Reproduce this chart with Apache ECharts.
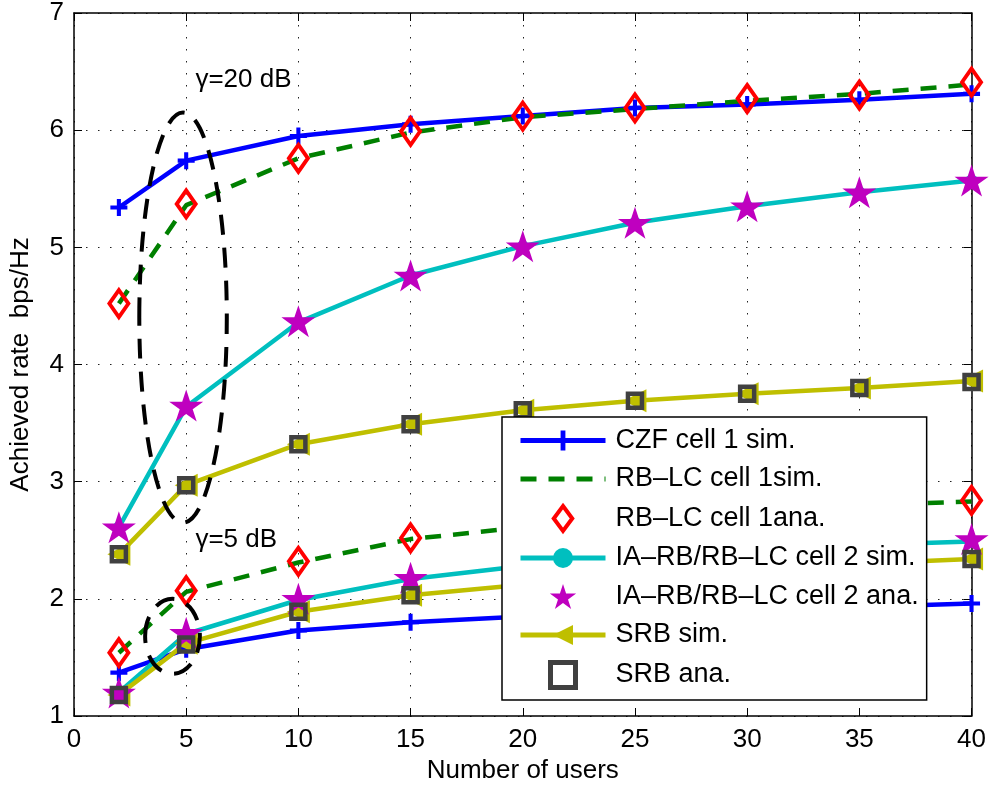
<!DOCTYPE html>
<html>
<head>
<meta charset="utf-8">
<script src="https://cdn.jsdelivr.net/npm/echarts@6/dist/echarts.min.js"></script>
<style>
  html, body { margin: 0; padding: 0; background: #fff; }
  #chart { width: 989px; height: 790px; }
</style>
</head>
<body>
<div id="chart"></div>
<script>
// ---------------- data ----------------
const users = [2, 5, 10, 15, 20, 25, 30, 35, 40];
const xTicks = [0, 5, 10, 15, 20, 25, 30, 35, 40];
const yTicks = [1, 2, 3, 4, 5, 6, 7];

// gamma = 20 dB
const czfSim20   = [5.34, 5.74, 5.95, 6.05, 6.12, 6.19, 6.22, 6.26, 6.31];
const rblcSim20  = [4.52, 5.36, 5.76, 5.98, 6.11, 6.18, 6.25, 6.31, 6.39];
const rblcAna20  = [4.52, 5.37, 5.76, 5.99, 6.12, 6.19, 6.27, 6.30, 6.41];
const iaSim20    = [2.61, 3.64, 4.36, 4.76, 5.01, 5.21, 5.35, 5.47, 5.57];
const iaAna20    = [2.61, 3.65, 4.37, 4.76, 5.01, 5.21, 5.35, 5.47, 5.57];
const srbSim20   = [2.38, 2.97, 3.32, 3.49, 3.61, 3.69, 3.75, 3.80, 3.86];
const srbAna20   = [2.38, 2.97, 3.32, 3.49, 3.61, 3.69, 3.75, 3.80, 3.85];
// gamma = 5 dB
const czfSim5    = [1.37, 1.57, 1.73, 1.80, 1.85, 1.88, 1.91, 1.93, 1.96];
const rblcSim5   = [1.54, 2.06, 2.31, 2.51, 2.61, 2.69, 2.75, 2.80, 2.83];
const rblcAna5   = [1.54, 2.07, 2.32, 2.52, 2.62, 2.69, 2.75, 2.80, 2.84];
const iaSim5     = [1.20, 1.70, 1.99, 2.17, 2.28, 2.36, 2.42, 2.46, 2.49];
const iaAna5     = [1.20, 1.71, 2.00, 2.18, 2.28, 2.36, 2.42, 2.47, 2.51];
const srbSim5    = [1.18, 1.62, 1.89, 2.03, 2.12, 2.19, 2.25, 2.30, 2.34];
const srbAna5    = [1.18, 1.61, 1.89, 2.03, 2.12, 2.19, 2.25, 2.30, 2.34];

const names = ['CZF cell 1 sim.', 'RB–LC cell 1sim.', 'RB–LC cell 1ana.',
  'IA–RB/RB–LC cell 2 sim.', 'IA–RB/RB–LC cell 2 ana.', 'SRB sim.', 'SRB ana.'];

// annotations (data coordinates)
const ellipse20 = { cx: 4.86, cy: 4.40, rx: 1.95, ry: 1.75 };
const ellipse5  = { cx: 4.39, cy: 1.68, rx: 1.22, ry: 0.32 };
const label20 = { x: 5.41, y: 6.43, text: 'γ=20 dB' };
const label5  = { x: 5.41, y: 2.50, text: 'γ=5 dB' };

// ---------------- styles ----------------
const FONT = '"Liberation Sans", Arial, Helvetica, sans-serif';
const BLUE = '#0000ff', GREEN = '#008000', RED = '#ff0000', CYAN = '#00bfbf',
      MAG = '#bf00bf', YEL = '#bfbf00', GRAY = '#404040';
const CROSS = 'path://M-1,-0.24L-0.24,-0.24L-0.24,-1L0.24,-1L0.24,-0.24L1,-0.24L1,0.24L0.24,0.24L0.24,1L-0.24,1L-0.24,0.24L-1,0.24Z';
const DIAMOND = 'path://M0,-1.35L1,0L0,1.35L-1,0Z';
const STAR = 'path://M0,-1L0.2245,-0.309L0.951,-0.309L0.363,0.118L0.588,0.809L0,0.382L-0.588,0.809L-0.363,0.118L-0.951,-0.309L-0.2245,-0.309Z';
const TRI = 'path://M-1,0L1,-1L1,1Z';
const SQUARE = 'path://M-1,-1L1,-1L1,1L-1,1Z';

const pairs = arr => users.map((u, i) => [u, arr[i]]);

function lineSeries(name, arr, color, symbol, size, extra) {
  return Object.assign({
    type: 'line', name, data: pairs(arr), z: 2,
    symbol, symbolSize: size, showSymbol: symbol !== 'none', showAllSymbol: true,
    lineStyle: { color, width: 4.5 },
    itemStyle: { color, opacity: 1 },
    emphasis: { disabled: true }
  }, extra || {});
}
function markSeries(name, arr, symbol, size, itemStyle) {
  return {
    type: 'scatter', name, data: pairs(arr), z: 4,
    symbol, symbolSize: size, itemStyle,
    emphasis: { disabled: true }
  };
}

const diamondStyle = { color: 'transparent', borderColor: RED, borderWidth: 4, opacity: 1 };
const starStyle = { color: MAG, opacity: 1 };
const squareStyle = { color: 'transparent', borderColor: GRAY, borderWidth: 4.5, opacity: 1 };
const triStyle = { color: YEL, opacity: 1 };

const series = [
  lineSeries(names[0], czfSim20, BLUE, CROSS, 17),
  lineSeries(names[0], czfSim5, BLUE, CROSS, 17),
  lineSeries(names[1], rblcSim20, GREEN, 'none', 0, { lineStyle: { color: GREEN, width: 4.5, type: [16, 12] } }),
  lineSeries(names[1], rblcSim5, GREEN, 'none', 0, { lineStyle: { color: GREEN, width: 4.5, type: [16, 12] } }),
  markSeries(names[2], rblcAna20, DIAMOND, [19, 27], diamondStyle),
  markSeries(names[2], rblcAna5, DIAMOND, [19, 27], diamondStyle),
  lineSeries(names[3], iaSim20, CYAN, 'circle', 12),
  lineSeries(names[3], iaSim5, CYAN, 'circle', 12),
  markSeries(names[4], iaAna20, STAR, [34, 32], starStyle),
  markSeries(names[4], iaAna5, STAR, [34, 32], starStyle),
  lineSeries(names[5], srbSim20, YEL, TRI, 23, { itemStyle: triStyle }),
  lineSeries(names[5], srbSim5, YEL, TRI, 23, { itemStyle: triStyle }),
  markSeries(names[6], srbAna20, SQUARE, 14, squareStyle),
  markSeries(names[6], srbAna5, SQUARE, 14, squareStyle)
];

const gridLine = { show: true, lineStyle: { color: '#222', width: 1, type: [1.5, 10.5] } };
const axisLine = { show: true, onZero: false, lineStyle: { color: '#000', width: 1.5 } };
const tick = { show: true, inside: true, length: 8, lineStyle: { color: '#000', width: 1 } };

const option = {
  animation: false,
  backgroundColor: '#fff',
  textStyle: { fontFamily: FONT },
  grid: { left: 73, right: 15, top: 12, bottom: 74, containLabel: false },
  xAxis: [
    { type: 'value', min: xTicks[0], max: xTicks[xTicks.length - 1], interval: 5,
      name: 'Number of users', nameLocation: 'middle', nameGap: 42,
      nameTextStyle: { fontSize: 26, color: '#000', fontFamily: FONT },
      axisLine, axisTick: tick, splitLine: gridLine,
      axisLabel: { fontSize: 26, color: '#000', margin: 11, fontFamily: FONT } },
    { type: 'value', position: 'top', min: xTicks[0], max: xTicks[xTicks.length - 1], interval: 5,
      axisLine, axisTick: tick, splitLine: { show: false }, axisLabel: { show: false } }
  ],
  yAxis: [
    { type: 'value', min: yTicks[0], max: yTicks[yTicks.length - 1], interval: 1,
      name: 'Achieved rate  bps/Hz', nameLocation: 'middle', nameGap: 40,
      nameTextStyle: { fontSize: 26, color: '#000', fontFamily: FONT },
      axisLine, axisTick: tick, splitLine: gridLine,
      axisLabel: { fontSize: 26, color: '#000', margin: 10, fontFamily: FONT } },
    { type: 'value', position: 'right', min: yTicks[0], max: yTicks[yTicks.length - 1], interval: 1,
      axisLine, axisTick: tick, splitLine: { show: false }, axisLabel: { show: false } }
  ],
  legend: {
    orient: 'vertical', left: 502, top: 417,
    padding: [10, 8, 10, 16], itemGap: 11.5, itemWidth: 85, itemHeight: 25,
    backgroundColor: '#fff', borderColor: '#000', borderWidth: 1.5, borderRadius: 0,
    selectedMode: false, z: 20,
    textStyle: { fontSize: 27, color: '#000', fontFamily: FONT, lineHeight: 27, padding: [0, 0, 0, 5] },
    lineStyle: { width: 5 },
    data: [
      { name: names[0] },
      { name: names[1], itemStyle: { opacity: 0, color: 'transparent', borderWidth: 0 } },
      { name: names[2], icon: DIAMOND, itemStyle: diamondStyle },
      { name: names[3], itemStyle: { color: CYAN, opacity: 1 } },
      { name: names[4], icon: STAR, itemStyle: starStyle },
      { name: names[5], itemStyle: triStyle },
      { name: names[6], icon: SQUARE, itemStyle: { color: 'transparent', borderColor: GRAY, borderWidth: 5, opacity: 1 } }
    ]
  },
  series
};

const chart = echarts.init(document.getElementById('chart'), null, { renderer: 'canvas' });
chart.setOption(option);

function toPx(x, y) { return chart.convertToPixel({ xAxisIndex: 0, yAxisIndex: 0 }, [x, y]); }
function ellipseEl(e) {
  const c = toPx(e.cx, e.cy);
  const r = toPx(e.cx + e.rx, e.cy + e.ry);
  return {
    type: 'ellipse', z: 5, silent: true,
    shape: { cx: c[0], cy: c[1], rx: Math.abs(r[0] - c[0]), ry: Math.abs(r[1] - c[1]) },
    style: { fill: 'none', stroke: '#000', lineWidth: 4, lineDash: [20, 13] }
  };
}
function textEl(t) {
  const p = toPx(t.x, t.y);
  return {
    type: 'text', z: 6, silent: true, x: p[0], y: p[1],
    style: { text: t.text, fontSize: 26, fontFamily: FONT, fill: '#000',
             textAlign: 'left', textVerticalAlign: 'middle' }
  };
}
chart.setOption({ graphic: [ellipseEl(ellipse20), ellipseEl(ellipse5), textEl(label20), textEl(label5)] });
</script>
</body>
</html>
